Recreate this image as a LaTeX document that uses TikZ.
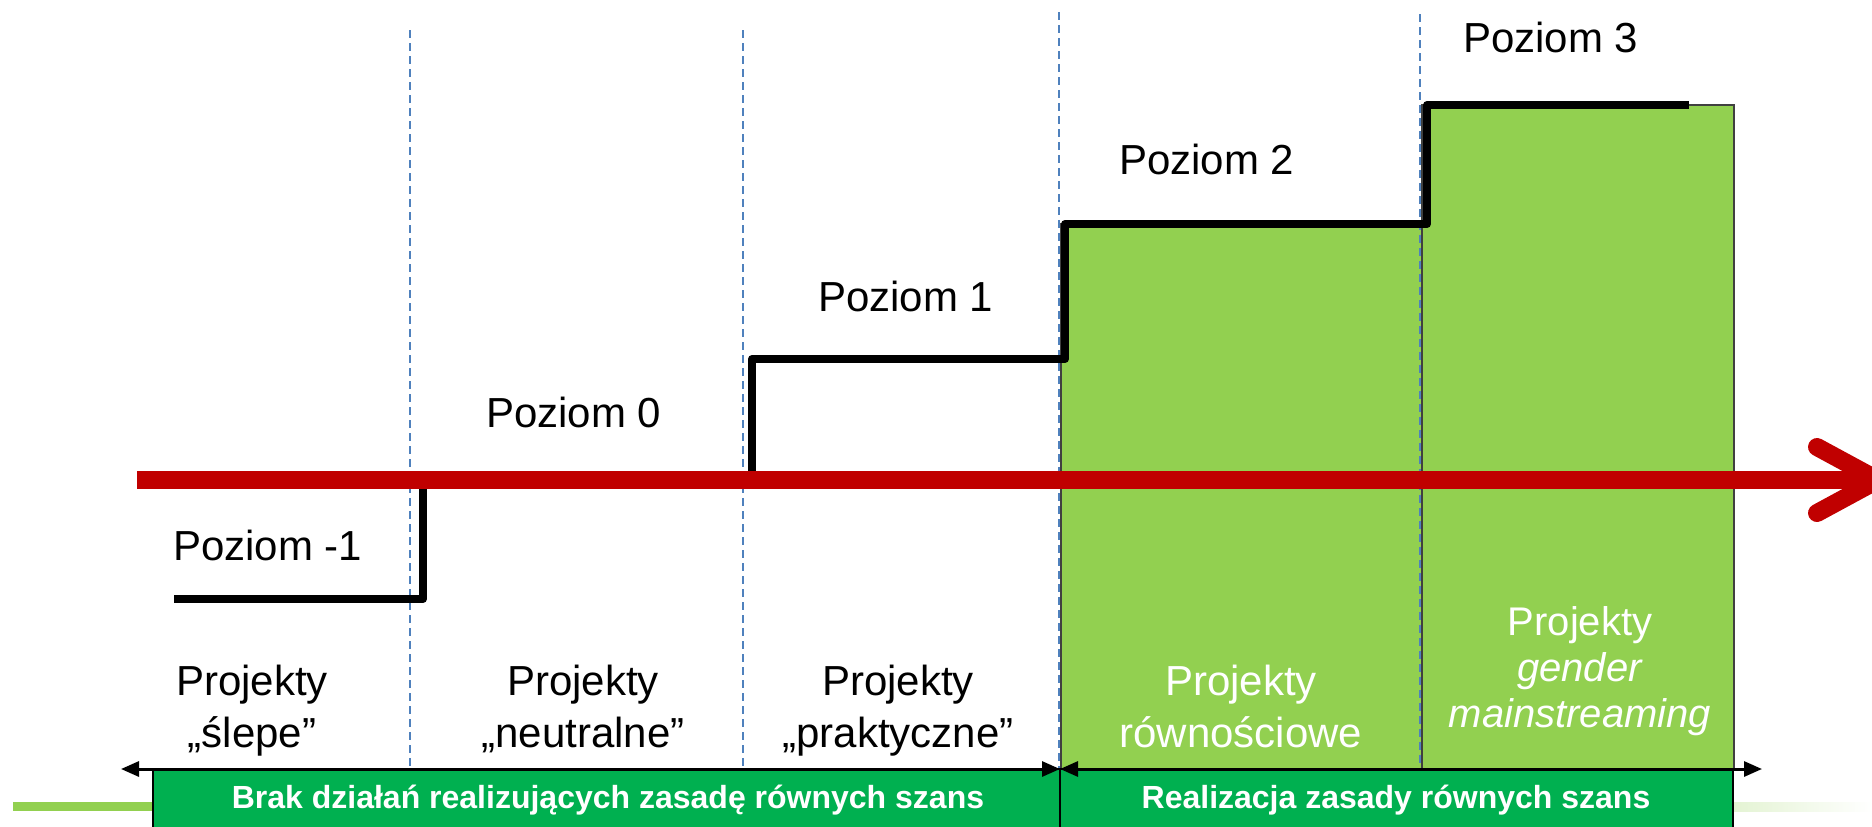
\documentclass[tikz,border=0pt]{standalone}
\usepackage{fontspec}
\setmainfont{Liberation Sans}
\usetikzlibrary{arrows.meta}
\definecolor{lgreen}{HTML}{92D050}
\definecolor{dgreen}{HTML}{00B050}
\definecolor{dred}{HTML}{C00000}
\definecolor{dblue}{HTML}{4F81BD}
\definecolor{boxedge}{HTML}{404040}
\tikzset{
  lvl/.style={anchor=base west, inner sep=0pt, font=\fontsize{42}{50}\selectfont},
  proj/.style={anchor=base, align=center, inner sep=0pt, font=\fontsize{42}{52}\selectfont},
  projg/.style={anchor=base, align=center, inner sep=0pt, text=white, font=\fontsize{40}{46}\selectfont},
  greenbox/.style={fill=lgreen, draw=boxedge, line width=1.5pt},
  barbox/.style={fill=dgreen, draw=black, line width=1.5pt},
  barlabel/.style={anchor=base, inner sep=0pt, text=white, font=\bfseries\fontsize{32}{38}\selectfont},
  divider/.style={draw=dblue, line width=1.8pt, dash pattern=on 8pt off 5pt},
  stepline/.style={draw=black, line width=8pt, line join=round},
  timeline/.style={draw=dred, line width=18pt},
  chevron/.style={draw=dred, line width=18pt, line cap=round, line join=round},
  span/.style={draw=black, line width=3pt, {Triangle[length=18pt,width=15pt]}-{Triangle[length=18pt,width=15pt]}}
}
\begin{document}
\begin{tikzpicture}[x=1pt,y=-1pt]
\useasboundingbox (0,0) rectangle (1872,827);
% decorative strips
\fill[lgreen] (13,802) rectangle (153,811);
\shade[left color=lgreen!25, right color=white] (1733,802) rectangle (1872,811);
% green boxes
\path[greenbox] (1061,224) rectangle (1422,769);
\path[greenbox] (1422,105) rectangle (1734,769);
% dashed dividers
\coordinate (d1t) at (410,30);   \coordinate (d1b) at (410,769);
\coordinate (d2t) at (743,30);   \coordinate (d2b) at (743,769);
\coordinate (d3t) at (1059,12);  \coordinate (d3b) at (1059,769);
\coordinate (d4t) at (1420,14);  \coordinate (d4b) at (1420,769);
\draw[divider] (d1t) -- (d1b);
\draw[divider] (d2t) -- (d2b);
\draw[divider] (d3t) -- (d3b);
\draw[divider] (d4t) -- (d4b);
% step line
\coordinate (s0) at (174,599);
\coordinate (s1) at (423,599);
\coordinate (s2) at (423,480);
\coordinate (s3) at (752,480);
\coordinate (s4) at (752,359);
\coordinate (s5) at (1065,359);
\coordinate (s6) at (1065,224);
\coordinate (s7) at (1427,224);
\coordinate (s8) at (1427,105);
\coordinate (s9) at (1689,105);
\draw[stepline] (s0) -- (s1) -- (s2);
\draw[stepline] (s3) -- (s4) -- (s5) -- (s6) -- (s7) -- (s8) -- (s9);
% red time arrow
\coordinate (ra) at (137,480);
\coordinate (rb) at (1872,480);
\coordinate (ctip) at (1878,480);
\coordinate (cu) at (1817,447);
\coordinate (cl) at (1817,513);
\draw[timeline] (ra) -- (rb);
\draw[chevron] (cu) -- (ctip) -- (cl);
% level labels
\node[lvl] (p3) at (1463,52) {Poziom 3};
\node[lvl] (p2) at (1119,174) {Poziom 2};
\node[lvl] (p1) at (818,311) {Poziom 1};
\node[lvl] (p0) at (486,427) {Poziom 0};
\node[lvl] (pm1) at (173,560) {Poziom -1};
% project labels (base anchor = last line baseline)
\node[proj] (t1) at (252,747) {Projekty\\„ślepe”};
\node[proj] (t2) at (583,747) {Projekty\\„neutralne”};
\node[proj] (t3) at (898,747) {Projekty\\„praktyczne”};
\node[proj, text=white] (t4) at (1241,747) {Projekty\\równościowe};
\node[projg] (t5) at (1580,727) {Projekty\\\textit{gender}\\\textit{mainstreaming}};
% bottom bars
\path[barbox] (153,769) rectangle (1060,840);
\path[barbox] (1060,769) rectangle (1733,840);
\node[barlabel] (b1) at (608,808) {Brak działań realizujących zasadę równych szans};
\node[barlabel] (b2) at (1396,808) {Realizacja zasady równych szans};
\coordinate (al) at (121,769);
\coordinate (ar) at (1762,769);
\coordinate (am) at (1060,769);
\draw[span] (al) -- (am);
\draw[span] (am) -- (ar);
\end{tikzpicture}
\end{document}
